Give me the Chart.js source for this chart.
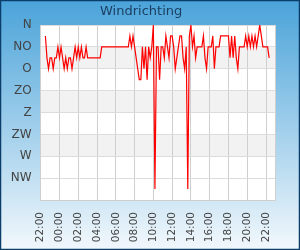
<!DOCTYPE html>
<html>
<head>
<meta charset="utf-8">
<script src="https://cdn.jsdelivr.net/npm/chart.js@4/dist/chart.umd.min.js"></script>
<style>
    html, body { margin: 0; padding: 0; background: #fff; }
    #grafiekWind { display: block; }
</style>
</head>
<body>
<canvas id="grafiekWind" width="300" height="250"></canvas>
<script>
// windrichtingen op de y-as (graden, 0 = N bovenaan)
const richtingLabels = ['N', 'NO', 'O', 'ZO', 'Z', 'ZW', 'W', 'NW'];
// tijdlabels, om de 2 uur vanaf 22:00
const tijdLabels = ['22:00', '00:00', '02:00', '04:00', '06:00', '08:00', '10:00',
                    '12:00', '14:00', '16:00', '18:00', '20:00', '22:00'];
// metingen elke 10 minuten, eerste meting om 22:30 (0.5 uur na 22:00)
const startUur = 0.5;
const stapUur  = 10 / 60;
const richting = [
    22.5, 67.5, 90, 67.5, 67.5, 90, 67.5, 67.5, 45, 67.5,
    45, 67.5, 90, 67.5, 90, 67.5, 67.5, 90, 67.5, 45,
    67.5, 45, 67.5, 45, 67.5, 67.5, 45, 67.5, 67.5, 67.5,
    67.5, 67.5, 67.5, 67.5, 67.5, 67.5, 45, 45, 45, 45,
    45, 45, 45, 45, 45, 45, 45, 45, 45, 45,
    45, 45, 45, 45, 22.5, 45, 22.5, 45, 67.5, 90,
    112.5, 112.5, 45, 90, 45, 112.5, 45, 67.5, 45, 0,
    337.5, 45, 45, 112.5, 45, 45, 67.5, 22.5, 45, 67.5,
    22.5, 22.5, 45, 90, 67.5, 45, 22.5, 22.5, 67.5, 90,
    45, 337.5, 22.5, 0, 45, 22.5, 67.5, 45, 45, 45,
    45, 22.5, 67.5, 90, 45, 45, 45, 22.5, 90, 45,
    45, 45, 22.5, 22.5, 22.5, 22.5, 22.5, 22.5, 67.5, 22.5,
    67.5, 22.5, 67.5, 90, 45, 45, 45, 45, 22.5, 45,
    22.5, 45, 22.5, 45, 22.5, 45, 22.5, 0, 22.5, 45,
    45, 45, 45, 67.5
];

const punten = richting.map((v, i) => ({ x: startUur + i * stapUur, y: v }));

// achtergrond, banden en rand
const achtergrondPlugin = {
    id: 'achtergrond',
    beforeDraw(chart) {
        const { ctx, chartArea: a, scales } = chart;
        const y = scales.y;
        ctx.save();
        const grad = ctx.createLinearGradient(0, 0, 0, chart.height);
        grad.addColorStop(0, '#4aa3d9');
        grad.addColorStop(1, '#f2f8fc');
        ctx.fillStyle = grad;
        ctx.fillRect(0, 0, chart.width, chart.height);

        ctx.fillStyle = '#ffffff';
        ctx.fillRect(a.left, a.top, a.width, a.height);

        // grijze banden tussen NO-O, ZO-Z, ZW-W
        ctx.fillStyle = '#f2f2f2';
        [1, 3, 5].forEach(k => {
            const boven = y.getPixelForValue(k * 45);
            const onder = y.getPixelForValue((k + 1) * 45);
            ctx.fillRect(a.left, boven, a.width, onder - boven);
        });
        ctx.restore();
    },
    afterDraw(chart) {
        const { ctx } = chart;
        ctx.save();
        ctx.strokeStyle = '#0b3d6b';
        ctx.lineWidth = 2.5;
        ctx.strokeRect(0, 0, chart.width, chart.height);
        ctx.restore();
    }
};

new Chart(document.getElementById('grafiekWind').getContext('2d'), {
    type: 'line',
    data: {
        datasets: [{
            data: punten,
            borderColor: '#ff0000',
            borderWidth: 1.2,
            pointRadius: 0,
            tension: 0,
            fill: false
        }]
    },
    options: {
        responsive: false,
        devicePixelRatio: 1,
        animation: false,
        layout: { padding: { left: 2, right: 19.7, top: 0, bottom: 2 } },
        plugins: {
            legend: { display: false },
            tooltip: { enabled: false },
            title: {
                display: true,
                text: 'Windrichting',
                color: '#1c3f63',
                font: { family: 'DejaVu Sans', size: 13, weight: 'normal' },
                padding: { top: 4, bottom: 5.4 }
            }
        },
        scales: {
            x: {
                type: 'linear',
                min: 0,
                max: 25,
                afterFit(scale) { scale.height = 48; },
                // ticks om de 2 uur plus de rechterrand
                afterBuildTicks(scale) {
                    const t = tijdLabels.map((_, i) => ({ value: i * 2 }));
                    t.push({ value: 25 });
                    scale.ticks = t;
                },
                ticks: {
                    autoSkip: false,
                    minRotation: 90,
                    maxRotation: 90,
                    padding: 12,
                    color: '#444',
                    font: { family: 'DejaVu Sans', size: 10.5 },
                    callback: v => (v % 2 === 0 ? tijdLabels[v / 2] : '')
                },
                grid: { color: '#cfcfcf', lineWidth: 1, drawTicks: false },
                border: { color: '#cfcfcf' }
            },
            y: {
                reverse: true,
                min: 0,
                max: 360,
                afterFit(scale) { scale.width = 38.7; },
                ticks: {
                    stepSize: 45,
                    padding: 9,
                    color: '#444',
                    font: { family: 'DejaVu Sans', size: 12 },
                    callback: v => richtingLabels[v / 45] ?? ''
                },
                grid: { color: '#dcdcdc', lineWidth: 1, drawTicks: false },
                border: { color: '#cfcfcf' }
            }
        }
    },
    plugins: [achtergrondPlugin]
});
</script>
</body>
</html>
